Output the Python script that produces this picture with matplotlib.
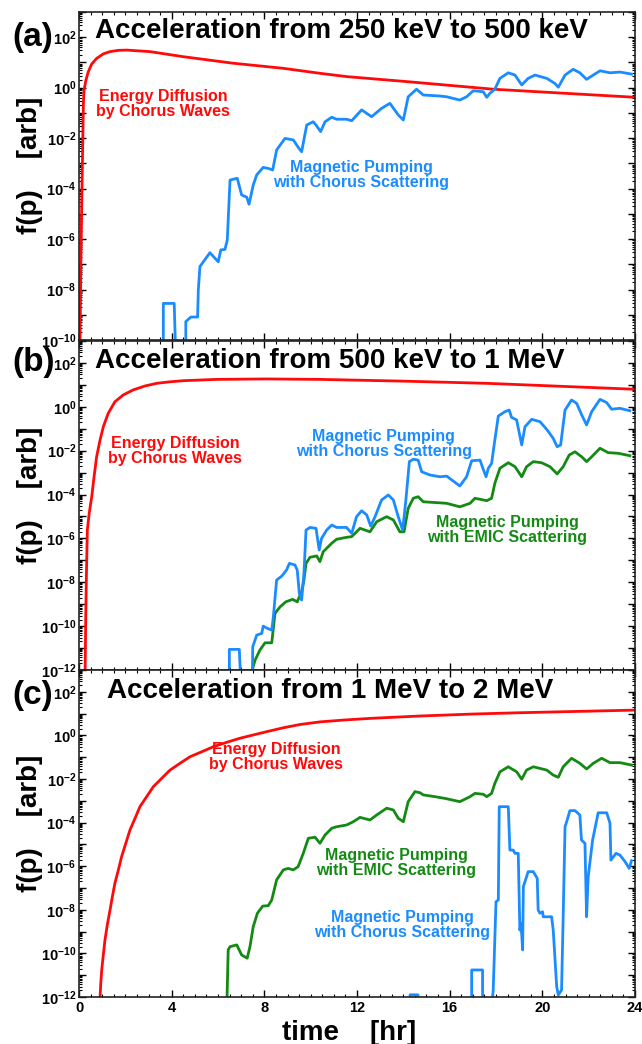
import matplotlib
matplotlib.use('Agg')
import matplotlib.pyplot as plt
import numpy as np
from matplotlib.ticker import LogLocator, FuncFormatter, MultipleLocator, NullFormatter

plt.rcParams['font.family'] = ['Liberation Sans', 'DejaVu Sans']
plt.rcParams['font.weight'] = 'bold'
plt.rcParams['mathtext.fontset'] = 'custom'
plt.rcParams['mathtext.rm'] = 'Liberation Sans:bold'
plt.rcParams['mathtext.bf'] = 'Liberation Sans:bold'
plt.rcParams['mathtext.it'] = 'Liberation Sans:bold'
plt.rcParams['mathtext.default'] = 'rm'

# ---------------- data (time in hr, log10 of f(p)) ----------------
a_red_t = [0.04, 0.08, 0.12, 0.19, 0.22, 0.30, 0.40, 0.55, 0.76, 1.05, 1.34, 1.70, 2.06, 3.06, 4.49, 6.65, 8.80, 10.40, 11.55, 14.29, 17.88, 24.0]
a_red_log = [-10.5, -7.0, -4.45, -0.6, -0.09, 0.30, 0.63, 0.94, 1.16, 1.34, 1.43, 1.48, 1.49, 1.43, 1.23, 0.97, 0.77, 0.57, 0.44, 0.23, -0.06, -0.38]

a_blue_t = [3.64, 3.64, 4.11, 4.17, 4.61, 4.61, 4.83, 5.12, 5.15, 5.22, 5.65, 6.01, 6.12, 6.30, 6.40, 6.52, 6.83, 7.02, 7.24, 7.34,
            7.52, 7.67, 7.95, 8.17, 8.36, 8.53, 8.89, 9.25, 9.46, 9.61, 9.83, 10.11, 10.23, 10.43, 10.62, 10.91, 11.12, 11.55, 11.77, 12.20,
            12.63, 13.06, 13.42, 13.78, 14.00, 14.21, 14.57, 14.86, 15.58, 15.87, 16.44, 16.73, 17.02, 17.45, 17.60, 17.74, 17.95, 18.17, 18.53, 18.82,
            19.11, 19.39, 19.68, 20.19, 20.54, 20.69, 20.98, 21.33, 21.62, 21.91, 22.13, 22.49, 22.92, 23.35, 23.85]
a_blue_log = [-10.5, -8.55, -8.55, -10.5, -10.5, -9.27, -9.09, -9.09, -8.02, -7.09, -6.54, -6.90, -6.43, -6.41, -6.04, -3.66, -3.59, -4.25, -4.34, -4.62,
              -3.86, -3.46, -3.16, -3.20, -3.26, -2.47, -2.01, -2.07, -2.36, -2.54, -1.48, -1.35, -1.48, -1.74, -1.35, -1.17, -1.25, -1.25, -1.31, -0.88,
              -1.15, -0.82, -0.62, -1.08, -1.28, -0.36, -0.06, -0.29, -0.33, -0.36, -0.49, -0.36, -0.12, -0.16, -0.38, -0.22, -0.06, 0.37, 0.59, 0.50,
              0.11, 0.37, 0.50, 0.37, 0.17, 0.02, 0.50, 0.73, 0.59, 0.33, 0.46, 0.67, 0.59, 0.62, 0.54]

b_red_t = [0.26, 0.29, 0.32, 0.36, 0.44, 0.55, 0.65, 0.76, 0.91, 1.05, 1.26, 1.55, 1.91, 2.34, 2.85, 3.35, 3.93, 4.50, 5.94, 8.10, 10.40, 14.0, 17.60, 24.0]
b_red_log = [-12.5, -9.72, -7.67, -5.62, -4.86, -4.10, -3.19, -2.28, -1.51, -0.91, -0.30, 0.23, 0.54, 0.77, 0.95, 1.07, 1.14, 1.19, 1.25, 1.27, 1.25, 1.17, 1.07, 0.80]

b_blue_t = [6.49, 6.49, 6.92, 6.98, 7.48, 7.50, 7.67, 7.89, 7.95, 8.13, 8.32, 8.39, 8.53, 8.75, 8.96, 9.08, 9.32, 9.42, 9.51, 9.61,
            9.71, 9.80, 9.97, 10.23, 10.37, 10.47, 10.69, 10.91, 11.12, 11.55, 11.77, 11.98, 12.20, 12.42, 12.59, 12.78, 13.06, 13.35, 13.57, 13.78,
            13.97, 14.11, 14.26, 14.43, 14.64, 14.79, 15.15, 15.58, 15.87, 16.44, 16.73, 16.95, 17.31, 17.45, 17.57, 17.67, 17.81, 17.95, 18.10, 18.39,
            18.57, 18.67, 18.89, 19.11, 19.25, 19.54, 19.90, 20.19, 20.47, 20.64, 20.79, 20.98, 21.26, 21.48, 21.70, 21.91, 22.13, 22.49, 22.78, 22.99,
            23.35, 23.78]
b_blue_log = [-12.5, -11.06, -11.06, -12.5, -12.5, -10.94, -10.41, -10.33, -10.00, -10.10, -10.18, -9.57, -7.90, -7.72, -7.44, -7.14, -7.21, -7.44, -8.50, -8.81,
              -7.59, -5.62, -5.50, -5.54, -6.53, -6.00, -5.62, -5.39, -5.50, -5.50, -5.77, -5.01, -4.74, -4.93, -5.44, -5.01, -4.25, -4.02, -4.25, -5.01,
              -5.62, -4.25, -2.50, -2.39, -2.43, -2.96, -3.11, -3.19, -3.16, -3.61, -3.19, -2.46, -2.43, -2.85, -3.19, -2.80, -2.58, -1.51, -0.42, -0.22,
              -0.15, -0.48, -0.60, -1.74, -0.91, -0.57, -0.68, -1.03, -1.44, -1.82, -1.74, -0.15, 0.31, 0.16, -0.37, -0.83, -0.22, 0.34, 0.19, -0.11,
              -0.07, -0.18]

b_green_t = [7.50, 7.50, 7.60, 7.81, 8.03, 8.32, 8.46, 8.68, 8.93, 9.22, 9.42, 9.61, 9.71, 9.80, 9.97, 10.26, 10.40, 10.54, 10.91, 11.12,
             11.55, 11.77, 12.13, 12.56, 12.85, 13.28, 13.57, 13.85, 14.03, 14.21, 14.43, 14.64, 14.86, 15.44, 15.87, 16.44, 16.88, 17.09, 17.60, 17.81,
             17.95, 18.17, 18.53, 18.82, 19.11, 19.32, 19.61, 19.97, 20.33, 20.64, 20.90, 21.16, 21.41, 21.70, 21.91, 22.13, 22.49, 22.84, 23.28, 23.78]
b_green_log = [-12.5, -11.92, -11.55, -11.09, -10.76, -10.76, -9.42, -9.12, -8.89, -8.78, -8.89, -8.43, -7.90, -7.14, -6.86, -6.80, -7.06, -6.61, -6.22, -6.04,
               -5.95, -5.92, -5.54, -5.70, -5.24, -5.01, -5.16, -5.70, -5.70, -4.63, -4.17, -4.10, -4.33, -4.37, -4.40, -4.56, -4.40, -4.17, -4.28, -4.17,
               -3.49, -2.80, -2.55, -2.73, -3.19, -2.73, -2.50, -2.55, -2.73, -3.06, -2.73, -2.20, -2.05, -2.28, -2.50, -2.28, -1.89, -2.09, -2.12, -2.23]

c_red_t = [0.88, 0.91, 0.94, 0.98, 1.05, 1.12, 1.22, 1.34, 1.44, 1.55, 1.70, 1.84, 2.02, 2.20, 2.42, 2.63, 2.92, 3.21, 3.57, 3.93,
           4.36, 4.79, 5.30, 5.80, 6.37, 6.95, 7.52, 8.10, 8.82, 9.54, 10.40, 11.50, 12.56, 14.72, 17.0, 19.03, 21.5, 24.0]
c_red_log = [-12.5, -11.99, -11.37, -10.76, -10.07, -9.39, -8.70, -8.01, -7.40, -6.78, -6.17, -5.56, -4.95, -4.34, -3.80, -3.27, -2.81, -2.35, -1.97, -1.59,
             -1.28, -0.98, -0.75, -0.52, -0.32, -0.13, 0.02, 0.17, 0.35, 0.50, 0.62, 0.71, 0.78, 0.89, 0.98, 1.04, 1.10, 1.16]

c_green_t = [6.38, 6.44, 6.52, 6.81, 7.02, 7.26, 7.38, 7.52, 7.70, 7.93, 8.17, 8.32, 8.53, 8.82, 9.03, 9.25, 9.46, 9.68, 9.90, 10.19,
             10.40, 10.62, 10.91, 11.12, 11.55, 11.84, 12.13, 12.56, 12.85, 13.28, 13.57, 13.78, 14.00, 14.21, 14.50, 14.72, 14.86, 15.36, 15.80, 16.44,
             16.88, 17.09, 17.45, 17.60, 17.81, 17.95, 18.17, 18.53, 18.89, 19.11, 19.32, 19.61, 20.19, 20.47, 20.69, 20.90, 21.26, 21.62, 21.91, 22.20,
             22.56, 22.92, 23.35, 23.85]
c_green_log = [-12.5, -9.84, -9.69, -9.61, -10.07, -10.22, -9.69, -8.78, -8.16, -7.83, -7.81, -7.55, -6.63, -6.17, -6.10, -6.17, -6.02, -5.41, -4.72, -4.67,
               -4.95, -4.57, -4.26, -4.19, -4.11, -3.96, -3.76, -3.88, -3.65, -3.34, -3.42, -3.80, -3.96, -3.04, -2.58, -2.63, -2.73, -2.81, -2.89, -3.04,
               -2.81, -2.66, -2.70, -2.81, -2.66, -2.20, -1.67, -1.44, -1.67, -2.01, -1.59, -1.44, -1.59, -1.82, -1.92, -1.44, -1.05, -1.28, -1.54, -1.28,
               -1.05, -1.25, -1.25, -1.36]

c_blue_t = [14.29, 14.29, 14.63, 14.63, 16.95, 16.95, 17.42, 17.42, 17.81, 17.88, 18.00, 18.10, 18.14, 18.53, 18.60, 18.74, 18.82, 18.96, 19.03, 19.08,
            19.15, 19.18, 19.39, 19.61, 19.78, 19.82, 19.90, 20.01, 20.04, 20.40, 20.47, 20.62, 20.69, 20.83, 20.90, 20.98, 21.05, 21.19, 21.41, 21.62,
            21.69, 21.84, 21.91, 21.98, 22.17, 22.41, 22.78, 22.92, 22.96, 23.18, 23.35, 23.57, 23.75, 23.85]
c_blue_log = [-12.5, -11.9, -11.9, -12.5, -12.5, -10.76, -10.76, -12.5, -12.5, -11.68, -7.63, -7.55, -3.27, -3.27, -5.26, -5.26, -5.41, -5.41, -8.93, -8.62,
              -9.84, -6.94, -6.25, -6.25, -6.56, -8.01, -8.16, -8.09, -8.32, -8.32, -8.93, -11.53, -11.91, -11.68, -8.32, -4.19, -3.96, -3.45, -3.45, -3.65,
              -4.80, -4.95, -8.32, -6.48, -4.80, -3.55, -3.55, -4.03, -5.72, -5.41, -5.49, -5.79, -6.10, -5.75]

titles = ['Acceleration from 250 keV to 500 keV',
          'Acceleration from 500 keV to 1 MeV',
          'Acceleration from 1 MeV to 2 MeV']
panel_letters = ['(a)', '(b)', '(c)']
xticks = [0, 4, 8, 12, 16, 20, 24]

RED = '#ff0a0a'
BLUE = '#1a8cff'
GREEN = '#138a13'

W, H = 642, 1044
fig = plt.figure(figsize=(W / 100, H / 100), dpi=100)

def ax_rect(top_px, bot_px, left_px=79, right_px=635):
    return [left_px / W, 1 - bot_px / H, (right_px - left_px) / W, (bot_px - top_px) / H]

def ytick_fmt(v, pos):
    e = int(round(np.log10(v)))
    return r'$10^{%d}$' % e if e % 2 == 0 else ''

panel_px = [(12, 340, -10), (341, 670, -12), (670, 997, -12)]
axes = []
for i, (tp, bp, ymin) in enumerate(panel_px):
    ax = fig.add_axes(ax_rect(tp, bp))
    ax.set_yscale('log')
    ax.set_xlim(0, 24)
    ax.set_ylim(10.0 ** ymin, 1e3)
    ax.yaxis.set_major_locator(LogLocator(base=10, numticks=40))
    ax.yaxis.set_minor_locator(LogLocator(base=10, subs=np.arange(2, 10) * 1.0, numticks=40))
    ax.yaxis.set_major_formatter(FuncFormatter(ytick_fmt))
    ax.yaxis.set_minor_formatter(NullFormatter())
    ax.xaxis.set_major_locator(MultipleLocator(4))
    ax.xaxis.set_minor_locator(MultipleLocator(0.5))
    ax.tick_params(which='both', direction='in', top=True, right=True, labelsize=10.5, pad=2)
    ax.tick_params(which='major', length=5, width=1.0)
    ax.tick_params(which='minor', length=2.5, width=0.8)
    for s in ax.spines.values():
        s.set_linewidth(1.2)
        s.set_color('#222222')
    if i < 2:
        ax.tick_params(axis='x', labelbottom=False)
    else:
        ax.set_xticks(xticks)
        ax.set_xticklabels([str(v) for v in xticks], fontsize=10.5, fontweight='bold')
        ax.tick_params(axis='x', pad=3)
    for lab in ax.get_yticklabels():
        lab.set_fontweight('bold')
    axes.append(ax)

lw = 2.0
ax_a, ax_b, ax_c = axes
ax_a.plot(a_red_t, 10.0 ** np.array(a_red_log), color=RED, lw=lw)
ax_a.plot(a_blue_t, 10.0 ** np.array(a_blue_log), color=BLUE, lw=lw)

ax_b.plot(b_red_t, 10.0 ** np.array(b_red_log), color=RED, lw=lw)
ax_b.plot(b_green_t, 10.0 ** np.array(b_green_log), color=GREEN, lw=lw)
ax_b.plot(b_blue_t, 10.0 ** np.array(b_blue_log), color=BLUE, lw=lw)

ax_c.plot(c_red_t, 10.0 ** np.array(c_red_log), color=RED, lw=lw)
ax_c.plot(c_green_t, 10.0 ** np.array(c_green_log), color=GREEN, lw=lw)
ax_c.plot(c_blue_t, 10.0 ** np.array(c_blue_log), color=BLUE, lw=lw)

txt_kw = dict(ha='center', va='center', fontsize=11.5, fontweight='bold', linespacing=0.95, multialignment='center')
ax_a.text(3.63, 10 ** -0.65, 'Energy Diffusion\nby Chorus Waves', color=RED, **txt_kw)
ax_a.text(12.17, 10 ** -3.46, 'Magnetic Pumping\nwith Chorus Scattering', color=BLUE, **txt_kw)
ax_b.text(4.14, 10 ** -2.02, 'Energy Diffusion\nby Chorus Waves', color=RED, **txt_kw)
ax_b.text(13.16, 10 ** -1.70, 'Magnetic Pumping\nwith Chorus Scattering', color=BLUE, **txt_kw)
ax_b.text(18.49, 10 ** -5.62, 'Magnetic Pumping\nwith EMIC Scattering', color=GREEN, **txt_kw)
ax_c.text(8.50, 10 ** -0.99, 'Energy Diffusion\nby Chorus Waves', color=RED, **txt_kw)
ax_c.text(13.70, 10 ** -5.85, 'Magnetic Pumping\nwith EMIC Scattering', color=GREEN, **txt_kw)
ax_c.text(13.94, 10 ** -8.70, 'Magnetic Pumping\nwith Chorus Scattering', color=BLUE, **txt_kw)

# titles (baseline positions in px)
title_pos = [(95, 38), (95, 368), (107, 698)]
for t, (xp, yp) in zip(titles, title_pos):
    fig.text(xp / W, 1 - yp / H, t, ha='left', va='baseline', fontsize=20, fontweight='bold')

letter_pos = [(12, 46), (12, 371), (12, 704)]
for t, (xp, yp) in zip(panel_letters, letter_pos):
    fig.text(xp / W, 1 - yp / H, t, ha='left', va='baseline', fontsize=24, fontweight='bold')

ylab_centers = [165, 495, 823]
for yc in ylab_centers:
    fig.text(30 / W, 1 - yc / H, 'f(p)    [arb]', rotation=90, ha='center', va='center',
             fontsize=20, fontweight='bold')

fig.text(349 / W, 1 - 1040 / H, 'time    [hr]', ha='center', va='baseline', fontsize=20, fontweight='bold')

fig.savefig('out.png', dpi=100)
